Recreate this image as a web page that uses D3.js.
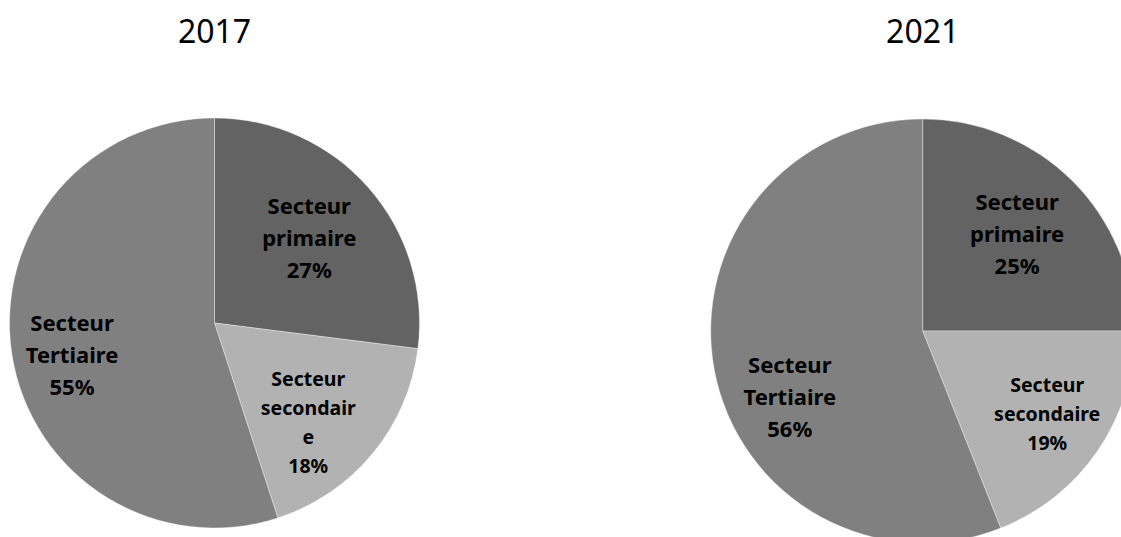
<!DOCTYPE html>
<html><head><meta charset="utf-8">
<script src="https://cdn.jsdelivr.net/npm/d3@7"></script>
<style>html,body{margin:0;padding:0;background:#fff;} svg{display:block;}</style>
</head><body>
<svg id="chart" width="1121" height="537"></svg>
<script>
// ---- data ----
const categories = ["Secteur primaire", "Secteur secondaire", "Secteur Tertiaire"];
const years = ["2017", "2021"];
const values2017 = [27, 18, 55];
const values2021 = [25, 19, 56];
const labels2017 = [["Secteur", "primaire", "27%"], ["Secteur", "secondair", "e", "18%"], ["Secteur", "Tertiaire", "55%"]];
const labels2021 = [["Secteur", "primaire", "25%"], ["Secteur", "secondaire", "19%"], ["Secteur", "Tertiaire", "56%"]];

// ---- layout / style ----
const colors = d3.scaleOrdinal().domain(categories).range(["#636363", "#b2b2b2", "#808080"]);
const pies = [
  {year: years[0], values: values2017, labels: labels2017, cx: 214.5, cy: 323, r: 205,
   offsets: [[2.5, -3.4], [-1, 21], [-21, 12.6]]},
  {year: years[1], values: values2021, labels: labels2021, cx: 922.7, cy: 331, r: 212,
   offsets: [[4.5, -6.6], [19.3, 12], [-8, 42.8]]}
];
const labelStyle = [
  {fs: 22, lh: 32}, {fs: 19.5, lh: 29}, {fs: 22, lh: 32}
];

const svg = d3.select("#chart");
const pieGen = d3.pie().sort(null).value(d => d);

pies.forEach(p => {
  const g = svg.append("g").attr("transform", `translate(${p.cx},${p.cy})`);
  const arc = d3.arc().innerRadius(0).outerRadius(p.r);
  const labelArc = d3.arc().innerRadius(p.r * 0.6).outerRadius(p.r * 0.6);
  const arcs = pieGen(p.values);
  g.selectAll("path").data(arcs).join("path")
    .attr("d", arc)
    .attr("fill", (d, i) => colors(categories[i]))
    .attr("stroke", "#ffffff").attr("stroke-width", 0.6).attr("stroke-opacity", 0.6);

  arcs.forEach((a, i) => {
    const [x, y] = labelArc.centroid(a);
    const st = labelStyle[i];
    const lines = p.labels[i];
    const bx = x + p.offsets[i][0];
    const by = y + p.offsets[i][1];
    const first = by - (lines.length - 1) / 2 * st.lh + 0.35 * st.fs;
    const t = g.append("text")
      .attr("text-anchor", "middle")
      .attr("font-family", "'Noto Sans', 'DejaVu Sans', sans-serif")
      .attr("font-weight", "bold")
      .attr("font-size", st.fs)
      .attr("fill", "#000");
    lines.forEach((ln, k) => {
      t.append("tspan").attr("x", bx).attr("y", first + k * st.lh).text(ln);
    });
  });

  svg.append("text")
    .attr("x", p.cx).attr("y", 43)
    .attr("text-anchor", "middle")
    .attr("font-family", "'Noto Sans', 'DejaVu Sans', sans-serif")
    .attr("font-size", 32)
    .attr("fill", "#000")
    .text(p.year);
});
</script>
</body></html>
